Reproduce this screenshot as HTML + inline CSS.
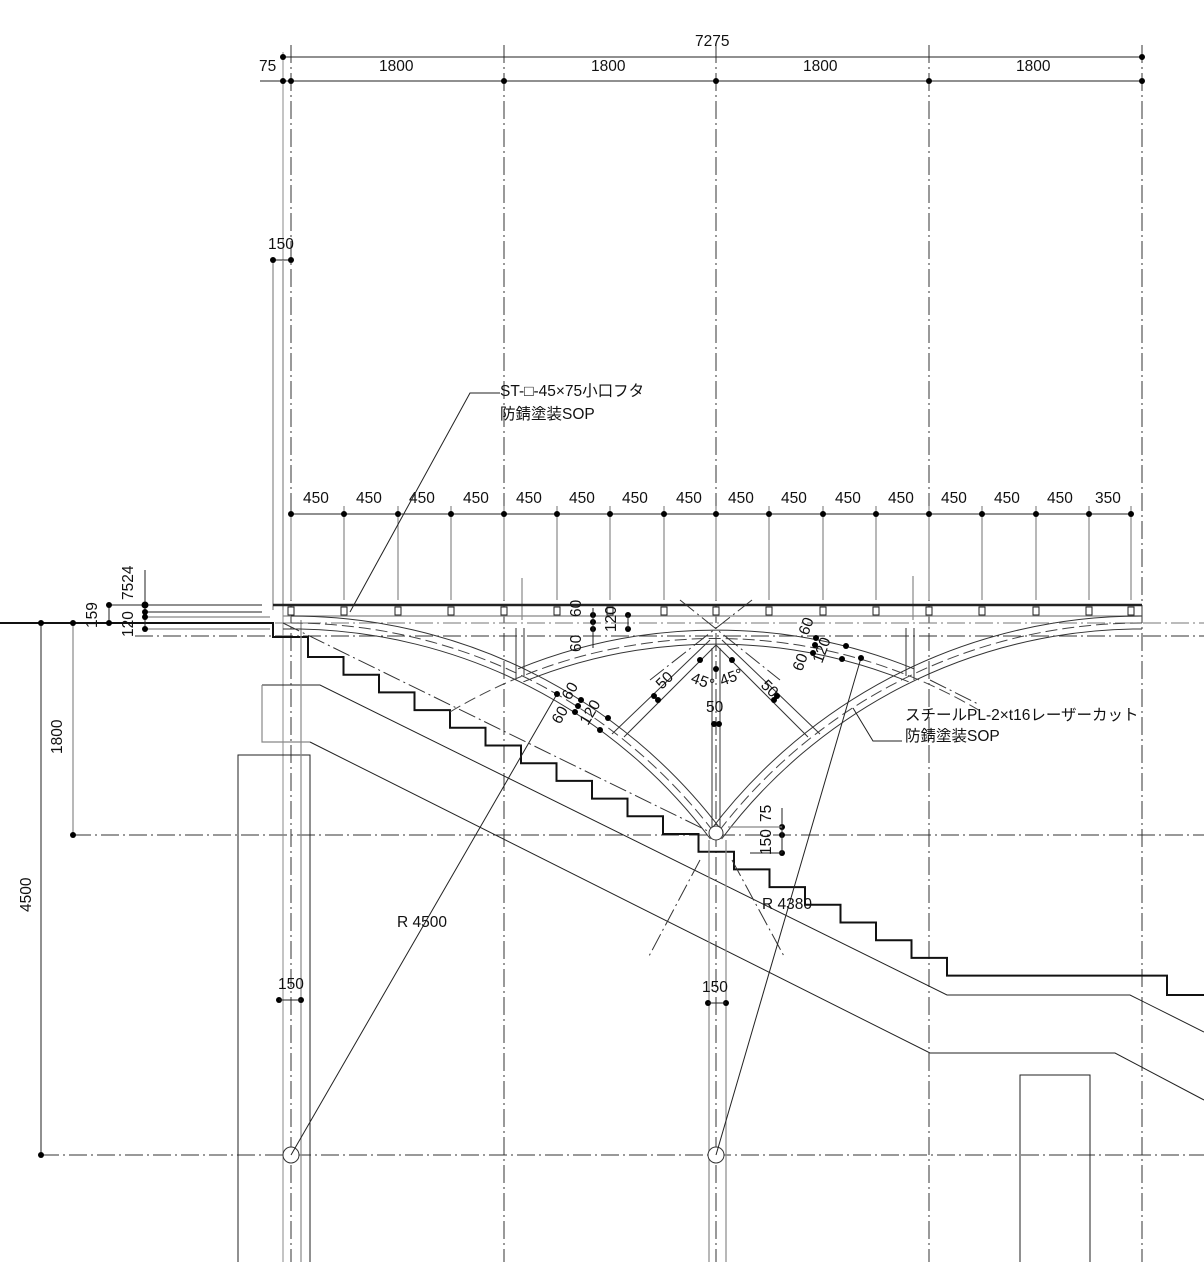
<!DOCTYPE html>
<html><head><meta charset="utf-8"><style>
html,body{margin:0;padding:0;background:#fff}
svg{display:block}
text{font-family:"Liberation Sans","Noto Sans CJK JP",sans-serif;font-size:15.5px;fill:#111}
.g{stroke:#888;fill:none;stroke-width:1.2}
.k{stroke:#222;fill:none;stroke-width:1}
.dd{stroke:#333;fill:none;stroke-width:1;stroke-dasharray:18 4 2 4}
.ds{stroke:#444;fill:none;stroke-width:1;stroke-dasharray:12 5}
</style></head><body>
<svg width="1204" height="1262" viewBox="0 0 1204 1262" xmlns="http://www.w3.org/2000/svg">
<g class="dd">
<line x1="291" y1="45" x2="291" y2="1262"/><line x1="504" y1="45" x2="504" y2="1262"/>
<line x1="716" y1="45" x2="716" y2="1262"/><line x1="929" y1="45" x2="929" y2="1262"/>
<line x1="1142" y1="45" x2="1142" y2="1262"/>
<line x1="135" y1="636" x2="1204" y2="636"/><line x1="73" y1="835" x2="1204" y2="835"/>
<line x1="41" y1="1155" x2="1204" y2="1155"/>
<line x1="135" y1="623" x2="1204" y2="623" stroke="#777"/>
</g>
<g class="k">
<line x1="283" y1="57" x2="1142" y2="57"/><line x1="260" y1="81" x2="1142" y2="81"/>
<line x1="283" y1="52" x2="283" y2="1262" stroke="#888"/>
</g>
<g fill="#000">
<circle cx="283" cy="57" r="3"/><circle cx="1142" cy="57" r="3"/>
<circle cx="283" cy="81" r="3"/><circle cx="291" cy="81" r="3"/><circle cx="504" cy="81" r="3"/><circle cx="716" cy="81" r="3"/><circle cx="929" cy="81" r="3"/><circle cx="1142" cy="81" r="3"/>
</g>
<text x="695" y="46">7275</text><text x="259" y="71">75</text>
<text x="379" y="71">1800</text><text x="591" y="71">1800</text><text x="803" y="71">1800</text><text x="1016" y="71">1800</text>
<line x1="273" y1="260" x2="291" y2="260" class="k"/><line x1="273" y1="260" x2="273" y2="610" class="g"/>
<line x1="283" y1="260" x2="283" y2="610" class="g"/>
<circle cx="273" cy="260" r="3"/><circle cx="291" cy="260" r="3"/>
<text x="268" y="249">150</text>
<line x1="291" y1="514" x2="1131" y2="514" class="k"/>
<g class="g" stroke-width="1">
<line x1="291" y1="514" x2="291" y2="600"/><line x1="344" y1="506" x2="344" y2="600"/><line x1="398" y1="506" x2="398" y2="600"/><line x1="451" y1="506" x2="451" y2="600"/><line x1="504" y1="506" x2="504" y2="600"/><line x1="557" y1="506" x2="557" y2="600"/><line x1="610" y1="506" x2="610" y2="600"/><line x1="664" y1="506" x2="664" y2="600"/><line x1="716" y1="506" x2="716" y2="600"/><line x1="769" y1="506" x2="769" y2="600"/><line x1="823" y1="506" x2="823" y2="600"/><line x1="876" y1="506" x2="876" y2="600"/><line x1="929" y1="506" x2="929" y2="600"/><line x1="982" y1="506" x2="982" y2="600"/><line x1="1036" y1="506" x2="1036" y2="600"/><line x1="1089" y1="506" x2="1089" y2="600"/><line x1="1131" y1="506" x2="1131" y2="600"/>
<line x1="522" y1="578" x2="522" y2="620"/><line x1="913" y1="576" x2="913" y2="620"/>
</g>
<g fill="#000">
<circle cx="291" cy="514" r="3"/><circle cx="344" cy="514" r="3"/><circle cx="398" cy="514" r="3"/><circle cx="451" cy="514" r="3"/><circle cx="504" cy="514" r="3"/><circle cx="557" cy="514" r="3"/><circle cx="610" cy="514" r="3"/><circle cx="664" cy="514" r="3"/><circle cx="716" cy="514" r="3"/><circle cx="769" cy="514" r="3"/><circle cx="823" cy="514" r="3"/><circle cx="876" cy="514" r="3"/><circle cx="929" cy="514" r="3"/><circle cx="982" cy="514" r="3"/><circle cx="1036" cy="514" r="3"/><circle cx="1089" cy="514" r="3"/><circle cx="1131" cy="514" r="3"/>
</g>
<g>
<text x="303" y="503">450</text><text x="356" y="503">450</text><text x="409" y="503">450</text><text x="463" y="503">450</text><text x="516" y="503">450</text><text x="569" y="503">450</text><text x="622" y="503">450</text><text x="676" y="503">450</text><text x="728" y="503">450</text><text x="781" y="503">450</text><text x="835" y="503">450</text><text x="888" y="503">450</text><text x="941" y="503">450</text><text x="994" y="503">450</text><text x="1047" y="503">450</text><text x="1095" y="503">350</text>
</g>
<line x1="273" y1="605" x2="1142" y2="605" stroke="#222" stroke-width="2.5"/>
<line x1="283" y1="616" x2="1142" y2="616" class="g"/>
<line x1="145" y1="605" x2="262" y2="605" class="k"/><line x1="145" y1="612" x2="262" y2="612" class="k"/>
<line x1="145" y1="617" x2="270" y2="617" class="g"/><line x1="145" y1="629" x2="270" y2="629" class="g"/>
<g stroke="#222" fill="#fff" stroke-width="1">
<rect x="288" y="607" width="6" height="8"/><rect x="341" y="607" width="6" height="8"/><rect x="395" y="607" width="6" height="8"/><rect x="448" y="607" width="6" height="8"/><rect x="501" y="607" width="6" height="8"/><rect x="554" y="607" width="6" height="8"/><rect x="607" y="607" width="6" height="8"/><rect x="661" y="607" width="6" height="8"/><rect x="713" y="607" width="6" height="8"/><rect x="766" y="607" width="6" height="8"/><rect x="820" y="607" width="6" height="8"/><rect x="873" y="607" width="6" height="8"/><rect x="926" y="607" width="6" height="8"/><rect x="979" y="607" width="6" height="8"/><rect x="1033" y="607" width="6" height="8"/><rect x="1086" y="607" width="6" height="8"/><rect x="1128" y="607" width="6" height="8"/>
</g>
<path d="M0 623 H273 V637 H308 V657 H343.5 V674.7 H379 V692.4 H414.5 V710.1 H450 V727.8 H485.5 V745.5 H521 V763.2 H556.5 V780.9 H592 V798.6 H627.5 V816.3 H663 V834 H698.5 V851.7 H734 V869.4 H769.5 V887.1 H805 V904.8 H840.5 V922.5 H876 V940.2 H911.5 V957.9 H947 V975.6 H1167 V995 H1204" stroke="#111" stroke-width="2" fill="none"/>
<path d="M262 685 H320 L947 995 H1130 L1204 1032" class="k"/>
<path d="M262 685 V742 H310" class="g"/>
<path d="M310 742 L930 1053 H1115 L1204 1100" class="k"/>
<path d="M238 1262 V755 H310 V1262" class="k"/>
<line x1="301" y1="620" x2="301" y2="1262" class="g"/>
<path d="M1020 1262 V1075 H1090 V1262" class="k"/>
<line x1="709" y1="840" x2="709" y2="1262" class="g"/><line x1="726" y1="840" x2="726" y2="1262" class="g"/>
<g stroke="#333" fill="none" stroke-width="1">
<path d="M283 629 H300 A 525 525 0 0 1 710.4 839"/>
<path d="M291 616 A 539 539 0 0 1 721.7 830.5"/>
<path d="M1142 629 H1133 A 525 525 0 0 0 721.6 839"/>
<path d="M1142 616 A 539 539 0 0 0 710.3 830.5"/>
<path d="M523.4 681.8 A 511 511 0 0 1 908.6 681.8"/>
<path d="M518.1 668.8 A 525 525 0 0 1 913.9 668.8"/>
<line x1="716" y1="645" x2="624" y2="737"/><line x1="710" y1="640" x2="612" y2="734"/>
<line x1="716" y1="645" x2="808" y2="737"/><line x1="722" y1="640" x2="820" y2="734"/>
<line x1="712" y1="648" x2="712" y2="830"/><line x1="720" y1="648" x2="720" y2="830"/>
<line x1="516" y1="628" x2="516" y2="680"/><line x1="524" y1="628" x2="524" y2="676"/>
<line x1="906" y1="628" x2="906" y2="676"/><line x1="914" y1="628" x2="914" y2="680"/>
</g>
<g class="ds">
<path d="M291 623 A 532 532 0 0 1 716 835"/>
<path d="M1142 623 A 532 532 0 0 0 716 835"/>
<path d="M450 712 A 518 518 0 0 1 982 712"/>
</g>
<g class="dd" stroke="#555">
<line x1="283" y1="623" x2="716" y2="835"/>
<line x1="680" y1="600" x2="780" y2="680"/><line x1="752" y1="600" x2="650" y2="680"/>
<line x1="700" y1="860" x2="648" y2="958"/><line x1="732" y1="860" x2="785" y2="958"/>
<line x1="930" y1="680" x2="980" y2="705"/>
</g>
<circle cx="716" cy="833" r="7" fill="#fff" stroke="#333"/>
<circle cx="291" cy="1155" r="8" fill="#fff" stroke="#333"/>
<circle cx="716" cy="1155" r="8" fill="#fff" stroke="#333"/>
<line x1="291" y1="1155" x2="557" y2="694" class="k"/>
<line x1="716" y1="1155" x2="861" y2="658" class="k"/>
<polyline points="500,393 470,393 350,612" class="k"/>
<polyline points="853,708 873,741 902,741" class="k"/>
<text x="500" y="396">ST-□-45×75小口フタ</text>
<text x="500" y="419">防錆塗装SOP</text>
<text x="905" y="720">スチールPL-2×t16レーザーカット</text>
<text x="905" y="741">防錆塗装SOP</text>
<text x="397" y="927">R 4500</text>
<text x="762" y="909">R 4380</text>
<line x1="41" y1="623" x2="41" y2="1155" class="k"/>
<line x1="73" y1="623" x2="73" y2="835" class="g"/>
<line x1="109" y1="605" x2="109" y2="623" class="k"/><line x1="109" y1="605" x2="145" y2="605" class="k"/>
<line x1="145" y1="570" x2="145" y2="630" class="k"/>
<g fill="#000">
<circle cx="41" cy="623" r="3"/><circle cx="73" cy="623" r="3"/><circle cx="109" cy="623" r="3"/><circle cx="109" cy="605" r="3"/>
<circle cx="41" cy="1155" r="3"/><circle cx="73" cy="835" r="3"/>
<circle cx="145" cy="605" r="3.5"/><circle cx="145" cy="612" r="3"/><circle cx="145" cy="617" r="3"/><circle cx="145" cy="629" r="3"/>
<circle cx="279" cy="1000" r="3"/><circle cx="301" cy="1000" r="3"/>
<circle cx="708" cy="1003" r="3"/><circle cx="726" cy="1003" r="3"/>
<circle cx="782" cy="827" r="3"/><circle cx="782" cy="835" r="3"/><circle cx="782" cy="853" r="3"/>
<circle cx="593" cy="615" r="3"/><circle cx="593" cy="622" r="3"/><circle cx="593" cy="629" r="3"/><circle cx="628" cy="615" r="3"/><circle cx="628" cy="629" r="3"/>
<circle cx="716" cy="669" r="3"/><circle cx="700" cy="660" r="3"/><circle cx="732" cy="660" r="3"/>
<circle cx="654" cy="696" r="3"/><circle cx="658" cy="700" r="3"/><circle cx="777" cy="696" r="3"/><circle cx="774" cy="700" r="3"/>
<circle cx="714" cy="724" r="3"/><circle cx="719" cy="724" r="3"/>
<circle cx="557" cy="694" r="3"/><circle cx="581" cy="700" r="3"/><circle cx="578" cy="706" r="3"/><circle cx="575" cy="712" r="3"/><circle cx="608" cy="718" r="3"/><circle cx="600" cy="730" r="3"/>
<circle cx="816" cy="638" r="3"/><circle cx="815" cy="645" r="3"/><circle cx="813" cy="653" r="3"/><circle cx="846" cy="646" r="3"/><circle cx="842" cy="659" r="3"/><circle cx="861" cy="658" r="3"/>
</g>
<line x1="279" y1="1000" x2="301" y2="1000" class="k"/><line x1="708" y1="1003" x2="726" y2="1003" class="k"/>
<line x1="782" y1="808" x2="782" y2="853" class="k"/><line x1="728" y1="827" x2="782" y2="827" class="g"/><line x1="750" y1="853" x2="782" y2="853" class="k"/>
<line x1="593" y1="608" x2="593" y2="648" class="k"/><line x1="628" y1="615" x2="628" y2="629" class="k"/>
<text x="278" y="989">150</text><text x="702" y="992">150</text><text x="706" y="712">50</text>
<text transform="translate(62,754) rotate(-90)">1800</text>
<text transform="translate(31,912) rotate(-90)">4500</text>
<text transform="translate(97,628) rotate(-90)">159</text>
<text transform="translate(133,600) rotate(-90)">7524</text>
<text transform="translate(133,637) rotate(-90)">120</text>
<text transform="translate(771,822) rotate(-90)">75</text>
<text transform="translate(771,855) rotate(-90)">150</text>
<text transform="translate(581,617) rotate(-90)">60</text>
<text transform="translate(581,652) rotate(-90)">60</text>
<text transform="translate(616,632) rotate(-90)">120</text>
<text transform="translate(690,682) rotate(20)">45°</text>
<text transform="translate(722,686) rotate(-20)">45°</text>
<text transform="translate(662,690) rotate(-45)">50</text>
<text transform="translate(760,686) rotate(45)">50</text>
<text transform="translate(570,701) rotate(-60)">60</text>
<text transform="translate(560,725) rotate(-60)">60</text>
<text transform="translate(588,726) rotate(-60)">120</text>
<text transform="translate(808,636) rotate(-70)">60</text>
<text transform="translate(802,672) rotate(-70)">60</text>
<text transform="translate(822,664) rotate(-70)">120</text>
</svg>
</body></html>
